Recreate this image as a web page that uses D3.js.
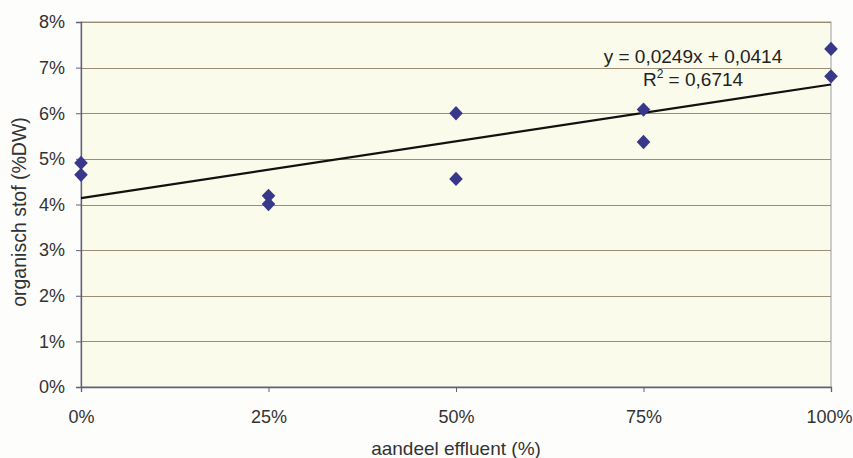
<!DOCTYPE html>
<html>
<head>
<meta charset="utf-8">
<script src="https://cdn.jsdelivr.net/npm/d3@7"></script>
<style>
  html, body { margin: 0; padding: 0; background: #fdfdfb; }
  svg { display: block; font-family: "Liberation Sans", Arial, sans-serif; }
</style>
</head>
<body>
<svg id="chart" width="853" height="458"></svg>
<script>
// Data
const xValues = [0, 0, 0.25, 0.25, 0.5, 0.5, 0.75, 0.75, 1, 1];
const yValues = [0.0491, 0.0465, 0.0419, 0.0401, 0.0600, 0.0456, 0.0608, 0.0537, 0.0741, 0.0681];
const xTicks = [0, 0.25, 0.5, 0.75, 1];
const yTicks = [0, 0.01, 0.02, 0.03, 0.04, 0.05, 0.06, 0.07, 0.08];
const trendSlope = 0.0249;
const trendIntercept = 0.0414;
const equationLines = ["y = 0,0249x + 0,0414", "R2 = 0,6714"];
const xTitle = "aandeel effluent (%)";
const yTitle = "organisch stof (%DW)";

const svg = d3.select("#chart");
const m = { left: 81, right: 831, top: 22, bottom: 387 };

const x = d3.scaleLinear().domain([0, 1]).range([m.left, m.right]);
const y = d3.scaleLinear().domain([0, 0.08]).range([m.bottom, m.top]);
const pct = v => Math.round(v * 100) + "%";

// plot area
svg.append("rect")
  .attr("x", m.left).attr("y", m.top)
  .attr("width", m.right - m.left).attr("height", m.bottom - m.top)
  .attr("fill", "#fbfbec")
  .attr("stroke", "#9a9aa6").attr("stroke-width", 1);

// gridlines
svg.append("g").selectAll("line").data(yTicks).join("line")
  .attr("x1", m.left).attr("x2", m.right)
  .attr("y1", d => Math.round(y(d)) + 0.5).attr("y2", d => Math.round(y(d)) + 0.5)
  .attr("stroke", "#9a8d76").attr("stroke-width", 1);

// y axis
const yAxis = d3.axisLeft(y).tickValues(yTicks).tickFormat(pct).tickSize(5).tickPadding(11);
const gy = svg.append("g").attr("transform", `translate(${m.left},0)`).call(yAxis);
gy.select(".domain").attr("stroke", "#5f5f78").attr("stroke-width", 1.3);
gy.selectAll(".tick line").attr("stroke", "#5f5f78");
gy.selectAll("text").attr("font-size", 18).attr("fill", "#333").attr("font-family", "Liberation Sans, Arial, sans-serif");

// x axis
const xAxis = d3.axisBottom(x).tickValues(xTicks).tickFormat(pct).tickSize(5).tickPadding(18);
const gx = svg.append("g").attr("transform", `translate(0,${m.bottom})`).call(xAxis);
gx.select(".domain").attr("stroke", "#5f5f78").attr("stroke-width", 1.3);
gx.selectAll(".tick line").attr("stroke", "#5f5f78");
gx.selectAll("text").attr("font-size", 18).attr("fill", "#333").attr("font-family", "Liberation Sans, Arial, sans-serif")
  .attr("dx", d => d === 1 ? -2 : 0);

// trendline
svg.append("line")
  .attr("x1", x(0)).attr("y1", y(trendIntercept))
  .attr("x2", x(1)).attr("y2", y(trendIntercept + trendSlope))
  .attr("stroke", "#111").attr("stroke-width", 2.2);

// points
const diamond = d3.symbol().type(d3.symbolDiamond2).size(118);
svg.append("g").selectAll("path").data(xValues.map((d, i) => [d, yValues[i]])).join("path")
  .attr("d", diamond)
  .attr("transform", d => `translate(${x(d[0])},${y(d[1])}) scale(1,1.05)`)
  .attr("fill", "#38388a");

// equation
const eq = svg.append("g").attr("fill", "#222").attr("font-size", 19);
eq.append("text").attr("x", 693).attr("y", 63).attr("text-anchor", "middle").text(equationLines[0]);
const r2 = eq.append("text").attr("x", 693).attr("y", 86).attr("text-anchor", "middle");
r2.append("tspan").text("R");
r2.append("tspan").attr("dy", -8).attr("font-size", 12).text("2");
r2.append("tspan").attr("dy", 8).text(" = 0,6714");

// axis titles
svg.append("text").attr("x", 456).attr("y", 455).attr("text-anchor", "middle")
  .attr("font-size", 19).attr("fill", "#333").text(xTitle);
svg.append("text").attr("transform", "translate(26,212) rotate(-90)").attr("text-anchor", "middle")
  .attr("font-size", 19.5).attr("fill", "#333").text(yTitle);
</script>
</body>
</html>
